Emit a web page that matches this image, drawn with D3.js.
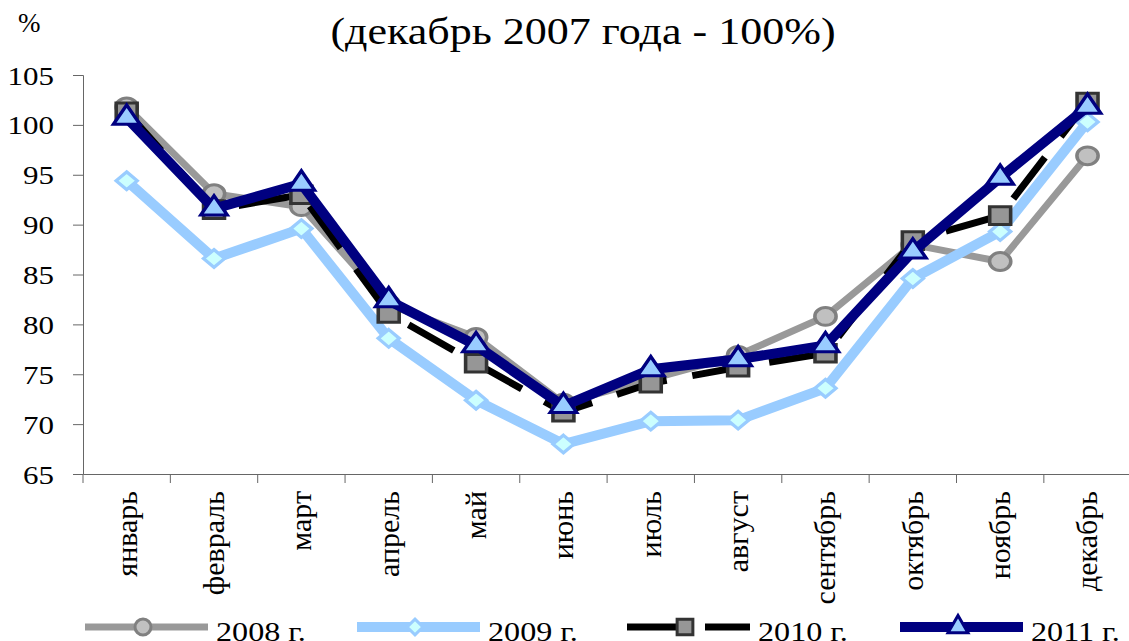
<!DOCTYPE html>
<html lang="ru">
	<head>
		<meta charset="utf-8">
		<title>декабрь 2007 года - 100%</title>
		<script src="https://d3js.org/d3.v7.min.js"></script>
		<style type="text/css">
			body {
				margin: 0;
				background: white;
			}
			svg text {
				font-family: "Liberation Serif", "Times New Roman", serif;
				fill: black;
			}
		</style>
	</head>
	<body>
		<script type="text/javascript">

			//Chart data
			var months = ["январь", "февраль", "март", "апрель", "май", "июнь",
			              "июль", "август", "сентябрь", "октябрь", "ноябрь", "декабрь"];
			var seriesNames = ["2008 г.", "2009 г.", "2010 г.", "2011 г."];
			var values2008 = [101.8, 93.1, 91.8, 82.0, 78.7, 72.1, 74.5, 76.9, 80.8, 88.0, 86.3, 96.9];
			var values2009 = [94.4, 86.6, 89.6, 78.6, 72.4, 68.0, 70.3, 70.4, 73.6, 84.6, 89.3, 100.3];
			var values2010 = [101.3, 91.5, 93.0, 81.1, 76.1, 71.2, 74.1, 75.7, 77.1, 88.4, 90.9, 102.3];
			var values2011 = [100.7, 91.6, 94.1, 82.4, 77.9, 71.8, 75.5, 76.5, 77.9, 87.3, 94.7, 101.8];
			var yTicks = [65, 70, 75, 80, 85, 90, 95, 100, 105];

			//Width and height
			var w = 1129;
			var h = 641;

			//The source picture is a bit wider than tall, so text and markers get stretched
			var stretch = 1.19;

			//Series styles
			var styles = [
				{ line: "#999999", width: 7, dash: null, marker: "circle", fill: "#c0c0c0", stroke: "#808080", size: 250 },
				{ line: "#99ccff", width: 10, dash: null, marker: "diamond", fill: "#ccffff", stroke: "#99ccff", size: 200 },
				{ line: "#000000", width: 7, dash: "52,26", marker: "square", fill: "#969696", stroke: "#333333", size: 310 },
				{ line: "#000080", width: 10, dash: null, marker: "triangle", fill: "#99ccff", stroke: "#000080", size: 215 }
			];
			var allValues = [values2008, values2009, values2010, values2011];

			var symbolTypes = {
				circle: d3.symbolCircle,
				diamond: d3.symbolDiamond2,
				square: d3.symbolSquare,
				triangle: d3.symbolTriangle
			};

			//Stretch a horizontal text to the wider look of the original
			function widen(sel) {
				sel.each(function() {
					var len = this.getComputedTextLength();
					d3.select(this)
					  .attr("textLength", len * stretch)
					  .attr("lengthAdjust", "spacingAndGlyphs");
				});
			}

			//Scales
			var x = d3.scaleBand()
			          .domain(months)
			          .range([83, 1131.2]);

			var y = d3.scaleLinear()
			          .domain([65, 105])
			          .range([474, 75]);

			//Create SVG element
			var svg = d3.select("body")
			            .append("svg")
			            .attr("width", w)
			            .attr("height", h);

			//Title
			svg.append("text")
			   .attr("x", 583)
			   .attr("y", 44)
			   .attr("text-anchor", "middle")
			   .style("font-size", "37px")
			   .text("(декабрь 2007 года - 100%)")
			   .call(widen);

			svg.append("text")
			   .attr("x", 18)
			   .attr("y", 32)
			   .style("font-size", "27px")
			   .text("%");

			//Y axis
			var yAxis = svg.append("g")
			               .attr("transform", "translate(83,0)")
			               .call(d3.axisLeft(y).tickValues(yTicks).tickSize(10).tickPadding(19).tickFormat(d3.format("d")));

			yAxis.attr("font-family", null);
			yAxis.selectAll("text")
			     .style("font-size", "26px")
			     .attr("dy", "0.35em")
			     .call(widen);

			//X axis
			var xAxis = svg.append("g")
			               .attr("transform", "translate(0,474)")
			               .call(d3.axisBottom(x).tickSize(0).tickPadding(0));

			xAxis.attr("font-family", null);
			xAxis.selectAll(".tick text")
			     .style("font-size", "30px")
			     .attr("text-anchor", "end")
			     .attr("transform", "rotate(-90)")
			     .attr("x", -17)
			     .attr("y", 0)
			     .attr("dy", "0.33em");

			//Category boundary ticks
			xAxis.selectAll(".boundary")
			     .data(months)
			     .enter()
			     .append("line")
			     .attr("class", "boundary")
			     .attr("x1", function(d) { return x(d); })
			     .attr("x2", function(d) { return x(d); })
			     .attr("y1", 0)
			     .attr("y2", 9)
			     .attr("stroke", "#666");

			svg.selectAll(".domain").attr("stroke", "#666");
			yAxis.selectAll("line").attr("stroke", "#666");

			//Lines and markers
			var line = d3.line()
			             .x(function(d, i) { return x(months[i]) + x.bandwidth() / 2; })
			             .y(function(d) { return y(d); });

			allValues.forEach(function(vals, s) {
				var st = styles[s];
				svg.append("path")
				   .datum(vals)
				   .attr("d", line)
				   .attr("fill", "none")
				   .attr("stroke", st.line)
				   .attr("stroke-width", st.width)
				   .attr("stroke-linejoin", "round")
				   .attr("stroke-dasharray", st.dash);

				svg.selectAll(".m" + s)
				   .data(vals)
				   .enter()
				   .append("path")
				   .attr("class", "m" + s)
				   .attr("d", d3.symbol().type(symbolTypes[st.marker]).size(st.size))
				   .attr("transform", function(d, i) {
				   		return "translate(" + (x(months[i]) + x.bandwidth() / 2) + "," + y(d) + ") scale(" + stretch + ",1)";
				   })
				   .attr("fill", st.fill)
				   .attr("stroke", st.stroke)
				   .attr("stroke-width", 3);
			});

			//Legend
			var legendX = [85, 357, 627, 900];
			var legend = svg.selectAll(".legend")
			                .data(seriesNames)
			                .enter()
			                .append("g")
			                .attr("class", "legend")
			                .attr("transform", function(d, i) { return "translate(" + legendX[i] + ",627)"; });

			legend.append("line")
			      .attr("x1", 0)
			      .attr("x2", 123)
			      .attr("stroke", function(d, i) { return styles[i].line; })
			      .attr("stroke-width", function(d, i) { return styles[i].width; })
			      .attr("stroke-dasharray", function(d, i) { return styles[i].dash; });

			legend.append("path")
			      .attr("d", function(d, i) { return d3.symbol().type(symbolTypes[styles[i].marker]).size(styles[i].size * 0.8)(); })
			      .attr("transform", "translate(58,0)")
			      .attr("fill", function(d, i) { return styles[i].fill; })
			      .attr("stroke", function(d, i) { return styles[i].stroke; })
			      .attr("stroke-width", 3);

			legend.append("text")
			      .attr("x", 131)
			      .attr("y", 14)
			      .style("font-size", "27px")
			      .text(function(d) { return d; })
			      .call(widen);

		</script>
	</body>
</html>
